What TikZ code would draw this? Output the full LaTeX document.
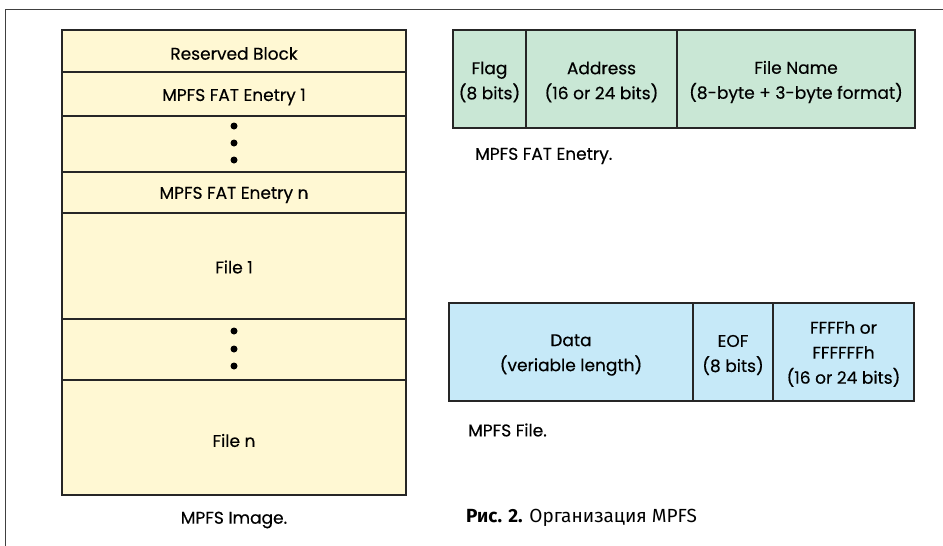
\documentclass[tikz,border=0pt]{standalone}
\usepackage{fontspec}
\setmainfont{Poppins}[FakeBold=0.4]
\newfontfamily\cyrfont{Fira Sans}
\begin{document}
\begin{tikzpicture}[x=1pt,y=-1pt,
  cell/.style={draw=black!85, line width=1.8pt, inner sep=0pt, outer sep=0pt, anchor=north west},
  ycell/.style={cell, fill=ylw},
  gcell/.style={cell, fill=grn},
  bcell/.style={cell, fill=blu},
  celltext/.style={inner sep=0pt, align=center, font=\fontsize{17}{25}\selectfont},
  dotm/.style={circle, fill=black, inner sep=0pt, minimum size=7pt},
  captext/.style={anchor=west, inner sep=0pt, font=\fontsize{17}{20}\selectfont}
]
\definecolor{ylw}{RGB}{255,248,211}
\definecolor{grn}{RGB}{201,231,213}
\definecolor{blu}{RGB}{198,233,248}
\useasboundingbox (0,0) rectangle (943,546);
\draw[black!75, line width=1pt] (5,546) -- (5,9) -- (943,9);
% MPFS image column
\node[ycell, minimum width=344pt, minimum height=42pt] (rb) at (62,30) {};
\node[ycell, minimum width=344pt, minimum height=44pt] (f1) at (62,72) {};
\node[ycell, minimum width=344pt, minimum height=56pt] (d1) at (62,116) {};
\node[ycell, minimum width=344pt, minimum height=41pt] (fn) at (62,172) {};
\node[ycell, minimum width=344pt, minimum height=106pt] (fl1) at (62,213) {};
\node[ycell, minimum width=344pt, minimum height=61pt] (d2) at (62,319) {};
\node[ycell, minimum width=344pt, minimum height=115pt] (fln) at (62,380) {};
\node[celltext] (trb) at ([yshift=-2.5pt]rb.center) {Reserved Block};
\node[celltext] (tf1) at ([yshift=-3pt]f1.center) {MPFS FAT Enetry 1};
\node[celltext] (tfn) at ([yshift=-2.5pt]fn.center) {MPFS FAT Enetry n};
\node[celltext] (tfl1) at ([yshift=-1pt]fl1.center) {File 1};
\node[celltext] (tfln) at ([yshift=-3pt]fln.center) {File n};
\node[dotm] (a1) at (234,126) {};
\node[dotm] (a2) at (234,143) {};
\node[dotm] (a3) at (234,160) {};
\node[dotm] (b1) at (234,331) {};
\node[dotm] (b2) at (234,349) {};
\node[dotm] (b3) at (234,366) {};
\node[anchor=center, inner sep=0pt, font=\fontsize{17}{20}\selectfont] (capimg) at (234,520) {MPFS Image.};
% FAT entry
\node[gcell, minimum width=73pt, minimum height=98pt] (flag) at (453,30) {};
\node[gcell, minimum width=151pt, minimum height=98pt] (addr) at (526,30) {};
\node[gcell, minimum width=238pt, minimum height=98pt] (fname) at (677,30) {};
\node[celltext] (tflag) at ([yshift=-3pt]flag.center) {Flag\\(8 bits)};
\node[celltext] (taddr) at ([yshift=-3pt]addr.center) {Address\\(16 or 24 bits)};
\node[celltext] (tfname) at ([yshift=-3pt]fname.center) {File Name\\(8-byte + 3-byte format)};
\node[captext] (capfat) at (475,156) {MPFS FAT Enetry.};
% MPFS file
\node[bcell, minimum width=244pt, minimum height=98pt] (data) at (449,303) {};
\node[bcell, minimum width=80pt, minimum height=98pt] (eof) at (693,303) {};
\node[bcell, minimum width=141pt, minimum height=98pt] (ffff) at (773,303) {};
\node[celltext] (tdata) at ([yshift=-3pt]data.center) {Data\\(veriable length)};
\node[celltext] (teof) at ([yshift=-3pt]eof.center) {EOF\\(8 bits)};
\node[celltext] (tffff) at ([yshift=-2pt]ffff.center) {FFFFh or\\FFFFFFh\\(16 or 24 bits)};
\node[captext] (capfile) at (468,430) {MPFS File.};
\node[anchor=west, inner sep=0pt, font=\cyrfont\fontsize{19}{22}\selectfont] (fig) at (466,518) {\textbf{Рис. 2.} Организация MPFS};
\end{tikzpicture}
\end{document}
